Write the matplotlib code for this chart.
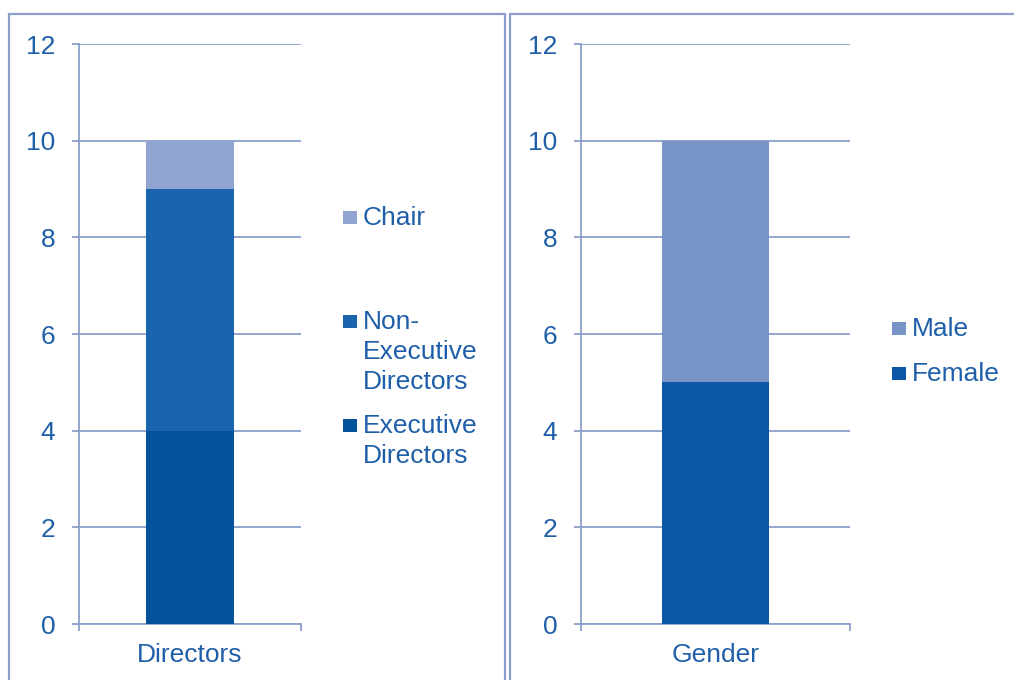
#!/usr/bin/env python3
import matplotlib
matplotlib.use("Agg")
import matplotlib.pyplot as plt
from matplotlib.patches import Rectangle

# ---- data ----
dir_cats = ["Directors"]
dir_series = ["Executive\nDirectors", "Non-\nExecutive\nDirectors", "Chair"]
dir_values = [4, 5, 1]
dir_colors = ["#04529c", "#1a63ae", "#90a5cf"]

gen_cats = ["Gender"]
gen_series = ["Female", "Male"]
gen_values = [5, 5]
gen_colors = ["#0a57a7", "#7994c6"]

yticks = [0, 2, 4, 6, 8, 10, 12]

TXT = "#1f5fa9"
LINE = "#8c9fcb"
FS = 19

plt.rcParams["font.family"] = ["Liberation Sans", "DejaVu Sans"]

W, H = 1014, 680
fig = plt.figure(figsize=(W / 100, H / 100), dpi=100)

# panel borders
for x0, x1 in [(9, 505), (510, 1030)]:
    fig.patches.append(Rectangle((x0 / W, -0.1), (x1 - x0) / W, (H - 14) / H + 0.1,
                                 transform=fig.transFigure, fill=False,
                                 edgecolor=LINE, linewidth=1.6))


def legend_entry(x, baseline, color, label):
    # square marker, then label whose first line sits on the baseline
    fig.patches.append(Rectangle(((x) / W, 1 - (baseline - 1) / H), 14 / W, 13 / H,
                                 transform=fig.transFigure, facecolor=color,
                                 edgecolor="none"))
    for i, line in enumerate(label.split("\n")):
        fig.text((x + 20) / W, 1 - (baseline + 30 * i) / H, line, color=TXT,
                 fontsize=FS, ha="left", va="baseline")


def panel(left, width, cats, series, values, colors, legend_x, baselines):
    ax = fig.add_axes([left / W, (H - 624) / H, width / W, 580 / H])
    bottom = 0
    for name, v, c in zip(series, values, colors):
        ax.bar(cats, [v], bottom=[bottom], width=0.4, color=c, zorder=3)
        bottom += v
    ax.set_ylim(0, 12)
    ax.set_xlim(-0.5, 0.5)
    ax.set_yticks(yticks)
    ax.grid(True, axis="y", color=LINE, linewidth=1.3, zorder=0)
    for s in ["top", "right"]:
        ax.spines[s].set_visible(False)
    for s in ["left", "bottom"]:
        ax.spines[s].set_color(LINE)
        ax.spines[s].set_linewidth(1.3)
    ax.tick_params(axis="y", colors=LINE, labelcolor=TXT, labelsize=FS,
                   length=5, width=1.3, pad=12)
    ax.set_xticks([-0.5, 0.5], minor=True)
    ax.tick_params(axis="x", which="minor", colors=LINE, length=5, width=1.3)
    ax.tick_params(axis="x", which="major", length=0, labelcolor=TXT,
                   labelsize=FS, pad=14)
    # legend, top entry first
    for name, c, b in zip(reversed(series), reversed(colors), baselines):
        legend_entry(legend_x, b, c, name)
    return ax


panel(79, 222, dir_cats, dir_series, dir_values, dir_colors, 343, [225, 329, 433])
panel(581, 269, gen_cats, gen_series, gen_values, gen_colors, 892, [336, 381])

fig.savefig("out.png", dpi=100)
